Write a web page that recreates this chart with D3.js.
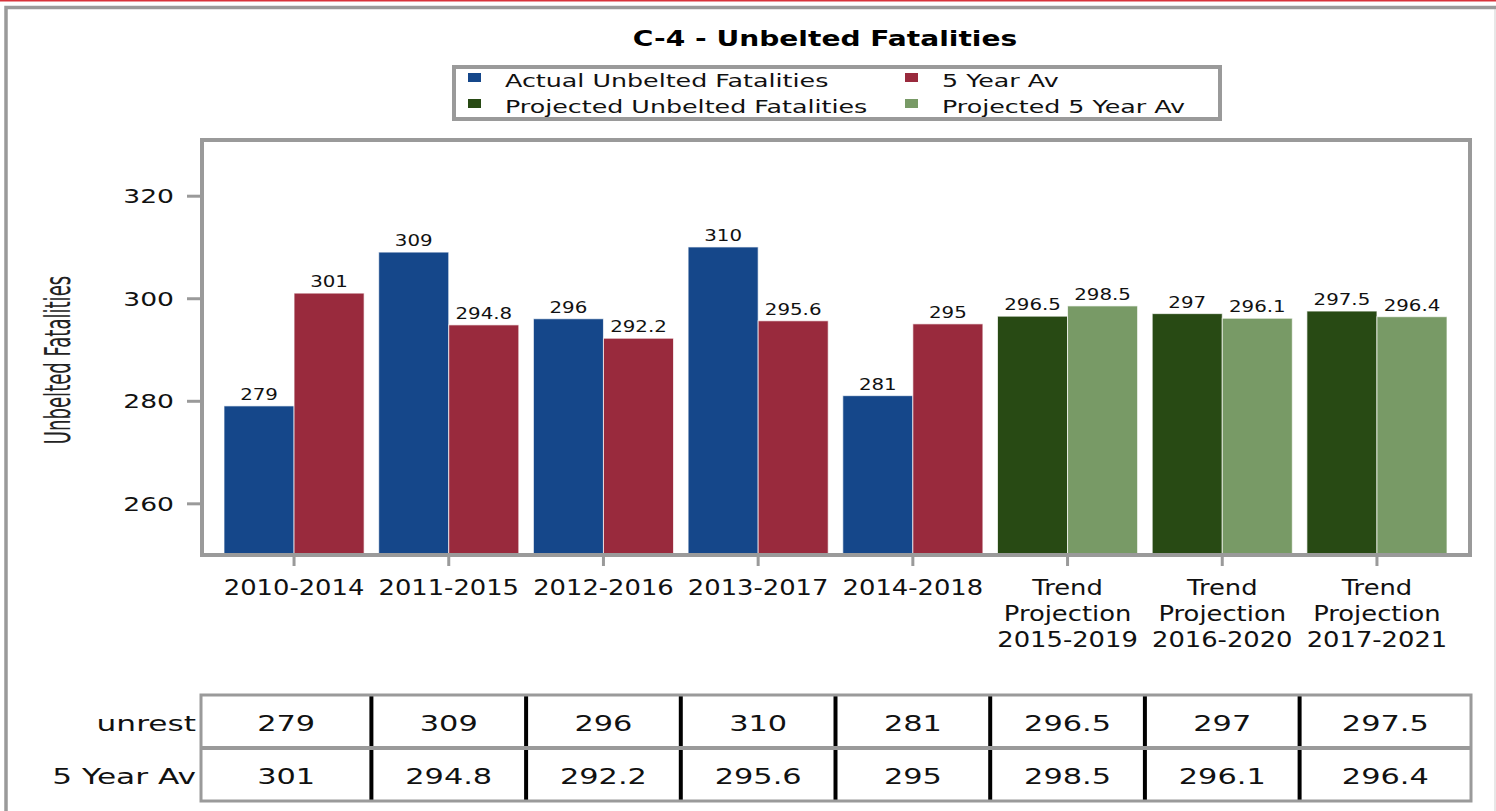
<!DOCTYPE html>
<html lang="en">
<head>
<meta charset="utf-8">
<title>C-4 - Unbelted Fatalities</title>
<script src="https://d3js.org/d3.v7.min.js"></script>
<style>
	body { margin: 0; background: #fff; }
	svg { display: block; font-family: 'DejaVu Sans', sans-serif; }
	.axis path { display: none; }
	.axis line { stroke: #9a9a9a; stroke-width: 3; }
</style>
</head>
<body>
<script>
	// Data
	var categories = ["2010-2014", "2011-2015", "2012-2016", "2013-2017", "2014-2018",
		"Trend\nProjection\n2015-2019", "Trend\nProjection\n2016-2020", "Trend\nProjection\n2017-2021"];
	var unrest = [279, 309, 296, 310, 281, 296.5, 297, 297.5];
	var fiveYearAv = [301, 294.8, 292.2, 295.6, 295, 298.5, 296.1, 296.4];
	var projected = [false, false, false, false, false, true, true, true];
	var seriesNames = ["Actual Unbelted Fatalities", "5 Year Av", "Projected Unbelted Fatalities", "Projected 5 Year Av"];
	var seriesColors = ["#15478a", "#992a3d", "#284a14", "#789a66"];
	var yTicks = [260, 280, 300, 320];
	var tableRows = ["unrest", "5 Year Av"];

	var w = 1496, h = 811;
	var svg = d3.select("body").append("svg").attr("width", w).attr("height", h);

	// text in the original is stretched sideways, so draw it scaled in x
	function stretched(parent, x, y, str, size, sx, anchor, weight) {
		return parent.append("text")
			.attr("transform", "translate(" + x + "," + y + ") scale(" + sx + ",1)")
			.attr("text-anchor", anchor || "middle")
			.attr("font-size", size)
			.attr("font-weight", weight || "normal")
			.attr("fill", "#111")
			.text(str);
	}

	// page frame
	svg.append("rect").attr("x", 0).attr("y", 0).attr("width", w).attr("height", 1.5).attr("fill", "#d8333b");
	svg.append("rect").attr("x", 6).attr("y", 7.5).attr("width", w + 20).attr("height", h + 20)
		.attr("fill", "none").attr("stroke", "#9a9a9a").attr("stroke-width", 3.5);
	svg.append("line").attr("x1", 1495).attr("x2", 1495).attr("y1", 9).attr("y2", h)
		.attr("stroke", "#cfcfcf").attr("stroke-width", 1);

	// scales
	var x = d3.scaleBand().domain(categories).range([224, 1447]).paddingInner(0.0944).paddingOuter(0);
	var xs = d3.scaleBand().domain([0, 1]).range([0, x.bandwidth()]);
	var y = d3.scaleLinear().domain([250, 331]).range([554.6, 139.3]);

	// title
	stretched(svg, 825, 45.5, "C-4 - Unbelted Fatalities", 20.5, 1.37, "middle", "bold").attr("fill", "#000");

	// legend
	var legend = svg.append("g");
	legend.append("rect").attr("x", 454).attr("y", 67).attr("width", 766).attr("height", 52)
		.attr("fill", "#fff").attr("stroke", "#9a9a9a").attr("stroke-width", 4);
	var legX = [468, 905], legY = [73, 99];
	seriesNames.forEach(function(name, i) {
		var col = i % 2, row = Math.floor(i / 2);
		legend.append("rect").attr("x", legX[col]).attr("y", legY[row]).attr("width", 13).attr("height", 9)
			.attr("fill", seriesColors[i]);
		stretched(legend, legX[col] + 37, legY[row] + 14, name, 18.5, 1.37, "start");
	});

	// bars
	var rows = categories.map(function(c, i) {
		return [
			{cat: c, k: 0, v: unrest[i], color: projected[i] ? seriesColors[2] : seriesColors[0]},
			{cat: c, k: 1, v: fiveYearAv[i], color: projected[i] ? seriesColors[3] : seriesColors[1]}
		];
	});
	var bars = d3.merge(rows);

	svg.append("g").selectAll("rect")
		.data(bars)
		.enter()
		.append("rect")
		.attr("x", function(d) { return x(d.cat) + xs(d.k); })
		.attr("y", function(d) { return y(d.v); })
		.attr("width", xs.bandwidth())
		.attr("height", function(d) { return y(250) - y(d.v); })
		.attr("fill", function(d) { return d.color; })
		.attr("stroke", "rgba(255,255,255,0.7)")
		.attr("stroke-width", 1);

	var barLabels = svg.append("g");
	bars.forEach(function(d) {
		stretched(barLabels, x(d.cat) + xs(d.k) + xs.bandwidth() / 2, y(d.v) - 6, String(d.v), 16.5, 1.2);
	});

	// plot frame
	svg.append("rect").attr("x", 202).attr("y", 140).attr("width", 1268).attr("height", 415)
		.attr("fill", "none").attr("stroke", "#9a9a9a").attr("stroke-width", 4);

	// y axis
	var gy = svg.append("g")
		.attr("class", "axis")
		.attr("transform", "translate(200,0)")
		.call(d3.axisLeft(y).tickValues(yTicks).tickSize(13).tickPadding(0))
		.attr("font-family", null).attr("font-size", null);
	gy.selectAll("text")
		.attr("x", null).attr("dy", null)
		.attr("transform", "translate(-26,7) scale(1.4,1)")
		.attr("font-size", 19)
		.attr("fill", "#111");

	svg.append("text")
		.attr("transform", "translate(70,360) rotate(-90) scale(0.695,1.37)")
		.attr("text-anchor", "middle")
		.attr("font-size", 26)
		.attr("fill", "#222")
		.text("Unbelted Fatalities");

	// x axis
	svg.append("g")
		.attr("class", "axis")
		.attr("transform", "translate(0,555)")
		.call(d3.axisBottom(x).tickSize(11).tickFormat(""));

	var xLabels = svg.append("g");
	categories.forEach(function(c) {
		c.split("\n").forEach(function(line, j) {
			stretched(xLabels, x(c) + x.bandwidth() / 2, 595 + 26 * j, line, 21.5, 1.2);
		});
	});

	// data table
	var tLeft = 201, tRight = 1471, tTop = 695, tMid = 748, tBottom = 801;
	var gap = x.step() * x.paddingInner() / 2;
	var bounds = categories.slice(1).map(function(c) { return x(c) - gap; });
	var edges = [tLeft].concat(bounds, [tRight]);

	var table = svg.append("g");
	table.selectAll("line.col")
		.data(bounds)
		.enter()
		.append("line")
		.attr("x1", function(d) { return d; })
		.attr("x2", function(d) { return d; })
		.attr("y1", tTop)
		.attr("y2", tBottom)
		.attr("stroke", "#000")
		.attr("stroke-width", 4);
	table.append("line").attr("x1", tLeft).attr("x2", tRight).attr("y1", tMid).attr("y2", tMid)
		.attr("stroke", "#9a9a9a").attr("stroke-width", 4);
	table.append("rect").attr("x", tLeft).attr("y", tTop).attr("width", tRight - tLeft).attr("height", tBottom - tTop)
		.attr("fill", "none").attr("stroke", "#9a9a9a").attr("stroke-width", 3);

	var rowTops = [tTop, tMid];
	[unrest, fiveYearAv].forEach(function(vals, r) {
		stretched(table, 196, rowTops[r] + 36, tableRows[r], 22, 1.42, "end");
		vals.forEach(function(v, i) {
			stretched(table, (edges[i] + edges[i + 1]) / 2, rowTops[r] + 36, String(v), 22, 1.38);
		});
	});
</script>
</body>
</html>
